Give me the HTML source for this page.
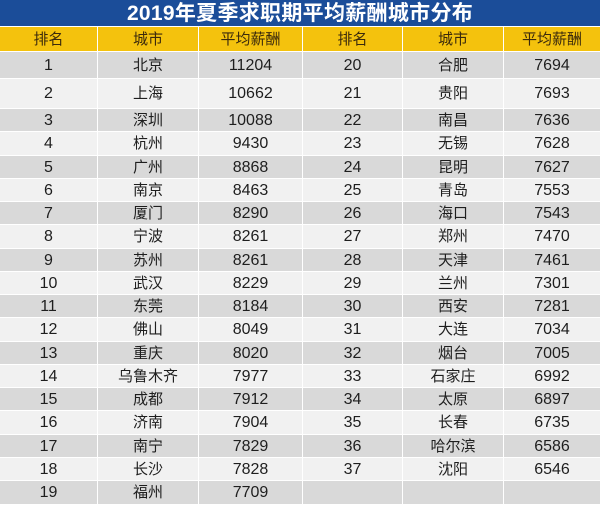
<!DOCTYPE html>
<html><head><meta charset="utf-8">
<style>
*{margin:0;padding:0;box-sizing:border-box}
body{width:600px;height:505px;background:#fff;overflow:hidden;position:relative;font-family:"Liberation Sans","Noto Sans CJK SC",sans-serif}
.title{position:absolute;left:0;top:0;width:600px;height:26px;background:#1b4d99;color:#fff;font-weight:bold;font-size:21px;text-align:center;line-height:27px;letter-spacing:0.3px}
.r{position:absolute;left:0;width:600px}
.c{position:absolute;top:0;height:100%;text-align:center;line-height:inherit;color:#1e1e1e;font-size:16px;white-space:nowrap}
.c.z{font-size:15px}
.h .c{background:#f4c20d;color:#3b2a0c;font-size:15px}
.g .c{background:#d9d9d9}
.l .c{background:#f1f1f1}
.c1{left:0;width:97px}
.c2{left:98px;width:100px}
.c3{left:199px;width:103px}
.c4{left:303px;width:99px}
.c5{left:403px;width:100px}
.c6{left:504px;width:96px}
</style></head><body>
<div class="title">2019年夏季求职期平均薪酬城市分布</div>

<div class="r h" style="top:27px;height:24px;line-height:25px"><div class="c c1">排名</div><div class="c c2">城市</div><div class="c c3">平均薪酬</div><div class="c c4">排名</div><div class="c c5">城市</div><div class="c c6">平均薪酬</div></div>

<div class="r g" style="top:52px;height:26px;line-height:27px"><div class="c c1">1</div><div class="c c2 z">北京</div><div class="c c3">11204</div><div class="c c4">20</div><div class="c c5 z">合肥</div><div class="c c6">7694</div></div>
<div class="r l" style="top:79px;height:29px;line-height:29px"><div class="c c1">2</div><div class="c c2 z">上海</div><div class="c c3">10662</div><div class="c c4">21</div><div class="c c5 z">贵阳</div><div class="c c6">7693</div></div>
<div class="r g" style="top:109px;height:22.25px;line-height:23px"><div class="c c1">3</div><div class="c c2 z">深圳</div><div class="c c3">10088</div><div class="c c4">22</div><div class="c c5 z">南昌</div><div class="c c6">7636</div></div>
<div class="r l" style="top:132.25px;height:22.25px;line-height:23px"><div class="c c1">4</div><div class="c c2 z">杭州</div><div class="c c3">9430</div><div class="c c4">23</div><div class="c c5 z">无锡</div><div class="c c6">7628</div></div>
<div class="r g" style="top:155.5px;height:22.25px;line-height:23px"><div class="c c1">5</div><div class="c c2 z">广州</div><div class="c c3">8868</div><div class="c c4">24</div><div class="c c5 z">昆明</div><div class="c c6">7627</div></div>
<div class="r l" style="top:178.75px;height:22.25px;line-height:23px"><div class="c c1">6</div><div class="c c2 z">南京</div><div class="c c3">8463</div><div class="c c4">25</div><div class="c c5 z">青岛</div><div class="c c6">7553</div></div>
<div class="r g" style="top:202px;height:22.25px;line-height:23px"><div class="c c1">7</div><div class="c c2 z">厦门</div><div class="c c3">8290</div><div class="c c4">26</div><div class="c c5 z">海口</div><div class="c c6">7543</div></div>
<div class="r l" style="top:225.25px;height:22.25px;line-height:23px"><div class="c c1">8</div><div class="c c2 z">宁波</div><div class="c c3">8261</div><div class="c c4">27</div><div class="c c5 z">郑州</div><div class="c c6">7470</div></div>
<div class="r g" style="top:248.5px;height:22.25px;line-height:23px"><div class="c c1">9</div><div class="c c2 z">苏州</div><div class="c c3">8261</div><div class="c c4">28</div><div class="c c5 z">天津</div><div class="c c6">7461</div></div>
<div class="r l" style="top:271.75px;height:22.25px;line-height:23px"><div class="c c1">10</div><div class="c c2 z">武汉</div><div class="c c3">8229</div><div class="c c4">29</div><div class="c c5 z">兰州</div><div class="c c6">7301</div></div>
<div class="r g" style="top:295px;height:22.25px;line-height:23px"><div class="c c1">11</div><div class="c c2 z">东莞</div><div class="c c3">8184</div><div class="c c4">30</div><div class="c c5 z">西安</div><div class="c c6">7281</div></div>
<div class="r l" style="top:318.25px;height:22.25px;line-height:23px"><div class="c c1">12</div><div class="c c2 z">佛山</div><div class="c c3">8049</div><div class="c c4">31</div><div class="c c5 z">大连</div><div class="c c6">7034</div></div>
<div class="r g" style="top:341.5px;height:22.25px;line-height:23px"><div class="c c1">13</div><div class="c c2 z">重庆</div><div class="c c3">8020</div><div class="c c4">32</div><div class="c c5 z">烟台</div><div class="c c6">7005</div></div>
<div class="r l" style="top:364.75px;height:22.25px;line-height:23px"><div class="c c1">14</div><div class="c c2 z">乌鲁木齐</div><div class="c c3">7977</div><div class="c c4">33</div><div class="c c5 z">石家庄</div><div class="c c6">6992</div></div>
<div class="r g" style="top:388px;height:22.25px;line-height:23px"><div class="c c1">15</div><div class="c c2 z">成都</div><div class="c c3">7912</div><div class="c c4">34</div><div class="c c5 z">太原</div><div class="c c6">6897</div></div>
<div class="r l" style="top:411.25px;height:22.25px;line-height:23px"><div class="c c1">16</div><div class="c c2 z">济南</div><div class="c c3">7904</div><div class="c c4">35</div><div class="c c5 z">长春</div><div class="c c6">6735</div></div>
<div class="r g" style="top:434.5px;height:22.25px;line-height:23px"><div class="c c1">17</div><div class="c c2 z">南宁</div><div class="c c3">7829</div><div class="c c4">36</div><div class="c c5 z">哈尔滨</div><div class="c c6">6586</div></div>
<div class="r l" style="top:457.75px;height:22.25px;line-height:23px"><div class="c c1">18</div><div class="c c2 z">长沙</div><div class="c c3">7828</div><div class="c c4">37</div><div class="c c5 z">沈阳</div><div class="c c6">6546</div></div>
<div class="r g" style="top:481px;height:23px;line-height:23px"><div class="c c1">19</div><div class="c c2 z">福州</div><div class="c c3">7709</div><div class="c c4"></div><div class="c c5"></div><div class="c c6"></div></div>
</body></html>
